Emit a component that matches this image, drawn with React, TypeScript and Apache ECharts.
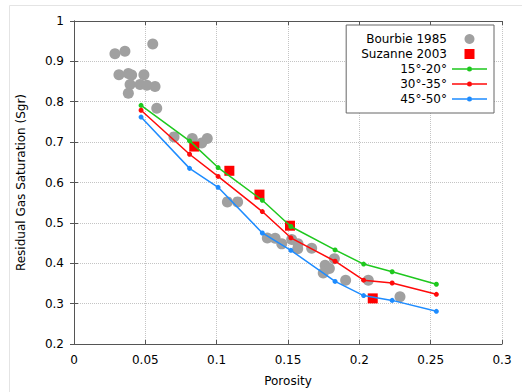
import React, { useEffect, useRef } from "react";
import * as echarts from "echarts";

const bourbieX = [0.0287, 0.0357, 0.0552, 0.0315, 0.0381, 0.0404, 0.049, 0.0393, 0.0463, 0.051, 0.0568, 0.0381, 0.058, 0.0701, 0.0829, 0.0895, 0.0934, 0.1075, 0.1147, 0.1355, 0.141, 0.1456, 0.1526, 0.157, 0.1568, 0.1666, 0.176, 0.1825, 0.179, 0.1747, 0.1904, 0.2063, 0.2285];
const bourbieY = [0.919, 0.925, 0.943, 0.867, 0.870, 0.866, 0.867, 0.843, 0.843, 0.841, 0.838, 0.821, 0.784, 0.713, 0.709, 0.698, 0.709, 0.552, 0.552, 0.4625, 0.462, 0.448, 0.459, 0.448, 0.436, 0.437, 0.395, 0.411, 0.387, 0.376, 0.358, 0.358, 0.317];

const suzanneX = [0.0843, 0.1089, 0.130, 0.1514, 0.2094];
const suzanneY = [0.689, 0.629, 0.570, 0.493, 0.313];

const lineX = [0.047, 0.081, 0.101, 0.132, 0.152, 0.183, 0.203, 0.223, 0.254];
const green15to20 = [0.791, 0.703, 0.637, 0.556, 0.491, 0.433, 0.398, 0.379, 0.348];
const red30to35 = [0.779, 0.670, 0.615, 0.528, 0.463, 0.405, 0.358, 0.351, 0.323];
const blue45to50 = [0.762, 0.635, 0.588, 0.475, 0.432, 0.355, 0.320, 0.308, 0.281];

const seriesNames = ["Bourbie 1985", "Suzanne 2003", "15°-20°", "30°-35°", "45°-50°"];
const xTicks = { min: 0, max: 0.3, interval: 0.05 };
const yTicks = { min: 0.2, max: 1, interval: 0.1 };

const FONT = "DejaVu Sans";
const AXIS_COLOR = "#555555";
const LINE_ICON =
  "path://M0,4.3h15v1.4h-15z M20,4.3h15v1.4h-15z M15,5a2.5,2.5 0 1,1 5,0a2.5,2.5 0 1,1 -5,0z";
const SQUARE_ICON = "path://M0,0h9v9h-9z";

function pairs(xs: number[], ys: number[]) {
  return xs.map((x, i) => [x, ys[i]]);
}

export default function App() {
  const ref = useRef<HTMLDivElement>(null);
  useEffect(() => {
    if (!ref.current) return;
    const chart = echarts.init(ref.current, null, { renderer: "svg" });
    const axisLine = { show: true, lineStyle: { color: AXIS_COLOR, width: 1 } };
    const tick = { show: true, inside: true, length: 4, lineStyle: { color: AXIS_COLOR } };
    const label = { color: "#000", fontFamily: FONT, fontSize: 12 };
    const split = { show: true, lineStyle: { color: "#c4c4c4", type: "dotted" as const, width: 1 } };
    const lineSeries = (name: string, ys: number[], color: string) => ({
      name,
      type: "line",
      data: pairs(lineX, ys),
      symbol: "circle",
      symbolSize: 5,
      showSymbol: true,
      itemStyle: { color },
      lineStyle: { color, width: 1.5 },
      z: 4,
    });
    chart.setOption({
      animation: false,
      backgroundColor: "#ffffff",
      textStyle: { fontFamily: FONT },
      graphic: [
        {
          type: "polyline",
          shape: { points: [[9.5, 400], [9.5, 5.5], [522, 5.5]] },
          style: { stroke: "#e4e4e4", fill: "none", lineWidth: 1 },
          silent: true,
        },
      ],
      grid: { left: 74, top: 21, width: 428, height: 327, containLabel: false },
      legend: {
        right: 34,
        top: 25,
        orient: "vertical",
        align: "right",
        data: [
          { name: seriesNames[0], icon: "circle" },
          { name: seriesNames[1], icon: SQUARE_ICON },
          { name: seriesNames[2], icon: LINE_ICON },
          { name: seriesNames[3], icon: LINE_ICON },
          { name: seriesNames[4], icon: LINE_ICON },
        ],
        itemWidth: 35,
        itemHeight: 10,
        itemGap: 3,
        padding: [8, 7, 8, 15],
        backgroundColor: "#ffffff",
        borderColor: "#666666",
        borderWidth: 1,
        textStyle: { fontFamily: FONT, fontSize: 12, color: "#000" },
      },
      xAxis: [
        {
          type: "value",
          ...xTicks,
          position: "bottom",
          name: "Porosity",
          nameLocation: "middle",
          nameGap: 31,
          nameTextStyle: { fontFamily: FONT, fontSize: 12, color: "#000" },
          axisLine,
          axisTick: tick,
          axisLabel: { ...label, margin: 10 },
          splitLine: split,
        },
        {
          type: "value",
          ...xTicks,
          position: "top",
          axisLine,
          axisTick: tick,
          axisLabel: { show: false },
          splitLine: { show: false },
        },
      ],
      yAxis: [
        {
          type: "value",
          ...yTicks,
          position: "left",
          name: "Residual Gas Saturation (Sgr)",
          nameLocation: "middle",
          nameGap: 47,
          nameTextStyle: { fontFamily: FONT, fontSize: 12, color: "#000" },
          axisLine,
          axisTick: tick,
          axisLabel: { ...label, margin: 10 },
          splitLine: split,
        },
        {
          type: "value",
          ...yTicks,
          position: "right",
          axisLine,
          axisTick: tick,
          axisLabel: { show: false },
          splitLine: { show: false },
        },
      ],
      series: [
        {
          name: seriesNames[0],
          type: "scatter",
          data: pairs(bourbieX, bourbieY),
          symbol: "circle",
          symbolSize: 11,
          itemStyle: { color: "#a0a0a0", opacity: 1 },
          z: 2,
        },
        {
          name: seriesNames[1],
          type: "scatter",
          data: pairs(suzanneX, suzanneY),
          symbol: "rect",
          symbolSize: 10,
          itemStyle: { color: "#ff0000", opacity: 1 },
          z: 3,
        },
        lineSeries(seriesNames[2], green15to20, "#1ec81e"),
        lineSeries(seriesNames[3], red30to35, "#ff0a0a"),
        lineSeries(seriesNames[4], blue45to50, "#1e8cff"),
      ],
    });
    return () => chart.dispose();
  }, []);
  return (
    <div
      ref={ref}
      style={{ position: "fixed", left: 0, top: 0, width: 528, height: 392 }}
    />
  );
}
